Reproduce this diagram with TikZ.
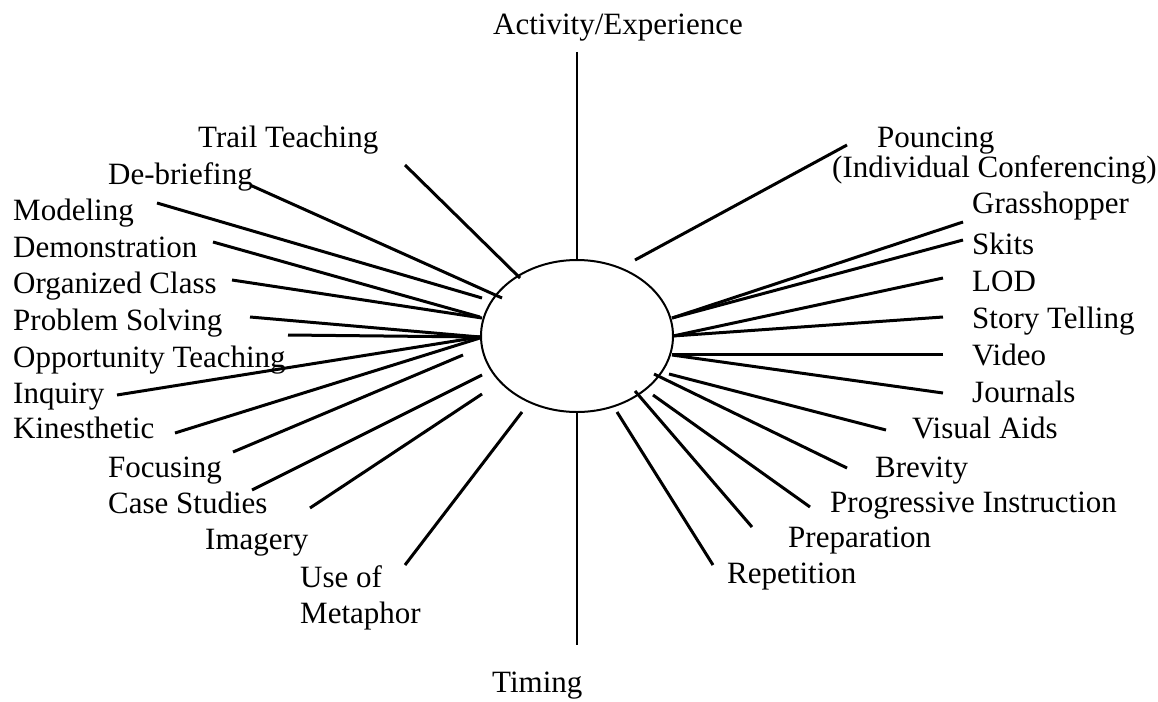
\documentclass[tikz,border=0pt]{standalone}
\usepackage{fontspec}
\setmainfont{Liberation Serif}
\usepackage{tikz}
\usetikzlibrary{calc}
\usetikzlibrary{shapes.geometric}

\tikzset{
  lbl/.style={inner sep=0pt, anchor=base west, font=\fontsize{31}{36}\selectfont},
  spoke/.style={line width=3pt},
  axis/.style={line width=2pt},
  hubshape/.style={ellipse, draw, line width=2pt, inner sep=0pt,
    minimum width=192pt, minimum height=152pt}
}

\begin{document}
\begin{tikzpicture}[x=1pt,y=-1pt]
                    \useasboundingbox (0,0) rectangle (1158,701);

                    % Drawing the hub
                    \node[hubshape] (hub) at (577,336) {};

                    % Drawing the axis
                    \node[lbl] (act) at (493,35) {Activity/Experience};%
                    \node[lbl] (tim) at (492,692) {Timing};%
                    \coordinate (act-end) at (577,52);%
                    \coordinate (tim-end) at (577,645);%
                    \draw [axis] (act-end) -- (hub.north);%
                    \draw [axis] (hub.south) -- (tim-end);%

                    % Drawing spokes on the left
                    \node[lbl] (trail) at (198,147) {Trail Teaching};%
                    \coordinate (trail-o) at (405,165); \coordinate (trail-i) at (520,278);%
                    \draw [spoke] (trail-o) -- (trail-i);%

                    \node[lbl] (debrief) at (108,184) {De-briefing};%
                    \coordinate (debrief-o) at (250,185); \coordinate (debrief-i) at (502,298);%
                    \draw [spoke] (debrief-o) -- (debrief-i);%

                    \node[lbl] (model) at (13,220) {Modeling};%
                    \coordinate (model-o) at (157,203); \coordinate (model-i) at (482,298);%
                    \draw [spoke] (model-o) -- (model-i);%

                    \node[lbl] (demo) at (13,257) {Demonstration};%
                    \coordinate (demo-o) at (213,242); \coordinate (demo-i) at (480,317);%
                    \draw [spoke] (demo-o) -- (demo-i);%

                    \node[lbl] (organ) at (13,293) {Organized Class};%
                    \coordinate (organ-o) at (232,280); \coordinate (organ-i) at (482,318);%
                    \draw [spoke] (organ-o) -- (organ-i);%

                    \node[lbl] (problem) at (13,330) {Problem Solving};%
                    \coordinate (problem-o) at (250,317); \coordinate (problem-i) at (480,337);%
                    \draw [spoke] (problem-o) -- (problem-i);%

                    \node[lbl] (oppor) at (13,367) {Opportunity Teaching};%
                    \coordinate (oppor-o) at (288,335); \coordinate (oppor-i) at (480,337);%
                    \draw [spoke] (oppor-o) -- (oppor-i);%

                    \node[lbl] (inquiry) at (13,403) {Inquiry};%
                    \coordinate (inquiry-o) at (117,395); \coordinate (inquiry-i) at (480,337);%
                    \draw [spoke] (inquiry-o) -- (inquiry-i);%

                    \node[lbl] (kines) at (13,438) {Kinesthetic};%
                    \coordinate (kines-o) at (175,433); \coordinate (kines-i) at (480,338);%
                    \draw [spoke] (kines-o) -- (kines-i);%

                    \node[lbl] (focus) at (108,477) {Focusing};%
                    \coordinate (focus-o) at (233,452); \coordinate (focus-i) at (463,355);%
                    \draw [spoke] (focus-o) -- (focus-i);%

                    \node[lbl] (case) at (108,513) {Case Studies};%
                    \coordinate (case-o) at (252,490); \coordinate (case-i) at (482,375);%
                    \draw [spoke] (case-o) -- (case-i);%

                    \node[lbl] (imag) at (205,549) {Imagery};%
                    \coordinate (imag-o) at (310,508); \coordinate (imag-i) at (482,394);%
                    \draw [spoke] (imag-o) -- (imag-i);%

                    \node[lbl] (metaph) at (300,587) {Use of};%
                    \node[lbl] (metaph2) at (300,623) {Metaphor};%
                    \coordinate (metaph-o) at (405,565); \coordinate (metaph-i) at (522,412);%
                    \draw [spoke] (metaph-o) -- (metaph-i);%

                    % Drawing spokes on the right
                    \node[lbl] (pounce) at (877,147) {Pouncing};%
                    \node[lbl] (pounce2) at (832,177) {(Individual Conferencing)};%
                    \coordinate (pounce-o) at (847,145); \coordinate (pounce-i) at (635,260);%
                    \draw [spoke] (pounce-o) -- (pounce-i);%

                    \node[lbl] (grass) at (972,213) {Grasshopper};%
                    \coordinate (grass-o) at (963,222); \coordinate (grass-i) at (672,318);%
                    \draw [spoke] (grass-o) -- (grass-i);%

                    \node[lbl] (skits) at (972,254) {Skits};%
                    \coordinate (skits-o) at (963,240); \coordinate (skits-i) at (672,318);%
                    \draw [spoke] (skits-o) -- (skits-i);%

                    \node[lbl] (lod) at (972,291) {LOD};%
                    \coordinate (lod-o) at (943,278); \coordinate (lod-i) at (673,336);%
                    \draw [spoke] (lod-o) -- (lod-i);%

                    \node[lbl] (story) at (972,328) {Story Telling};%
                    \coordinate (story-o) at (943,317); \coordinate (story-i) at (673,336);%
                    \draw [spoke] (story-o) -- (story-i);%

                    \node[lbl] (video) at (972,365) {Video};%
                    \coordinate (video-o) at (943,354); \coordinate (video-i) at (672,354);%
                    \draw [spoke] (video-o) -- (video-i);%

                    \node[lbl] (journ) at (972,402) {Journals};%
                    \coordinate (journ-o) at (943,393); \coordinate (journ-i) at (672,355);%
                    \draw [spoke] (journ-o) -- (journ-i);%

                    \node[lbl] (visual) at (912,438) {Visual Aids};%
                    \coordinate (visual-o) at (886,430); \coordinate (visual-i) at (669,374);%
                    \draw [spoke] (visual-o) -- (visual-i);%

                    \node[lbl] (brev) at (875,477) {Brevity};%
                    \coordinate (brev-o) at (847,468); \coordinate (brev-i) at (654,374);%
                    \draw [spoke] (brev-o) -- (brev-i);%

                    \node[lbl] (prog) at (830,512) {Progressive Instruction};%
                    \coordinate (prog-o) at (810,507); \coordinate (prog-i) at (653,395);%
                    \draw [spoke] (prog-o) -- (prog-i);%

                    \node[lbl] (prep) at (788,547) {Preparation};%
                    \coordinate (prep-o) at (752,527); \coordinate (prep-i) at (635,391);%
                    \draw [spoke] (prep-o) -- (prep-i);%

                    \node[lbl] (repet) at (727,583) {Repetition};%
                    \coordinate (repet-o) at (713,565); \coordinate (repet-i) at (617,412);%
                    \draw [spoke] (repet-o) -- (repet-i);%
\end{tikzpicture}
\end{document}
